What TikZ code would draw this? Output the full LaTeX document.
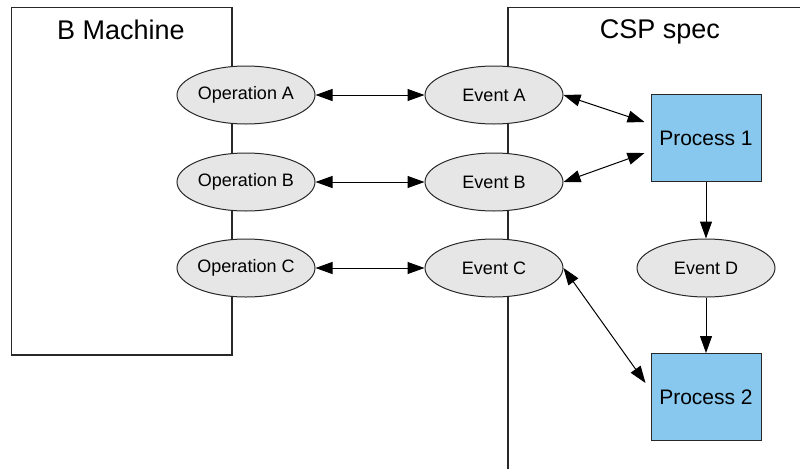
\documentclass[tikz,border=0pt]{standalone}
\usepackage{xcolor}
\usepackage{fontspec}
\setmainfont{Liberation Sans}
\usepackage{tikz}
\usetikzlibrary{shapes.geometric, arrows.meta, positioning, calc}
\definecolor{eventgray}{RGB}{230, 230, 230}
\definecolor{processblue}{RGB}{137, 200, 238}
\definecolor{linegray}{RGB}{40, 40, 40}

\begin{document}
\begin{tikzpicture}[x=1pt, y=-1pt, line width=1pt, draw=linegray,
    eventnode/.style={ellipse, draw=linegray, fill=eventgray, minimum width=138pt,
          minimum height=58pt, inner sep=0pt, font=\fontsize{18}{20}\selectfont},
    processnode/.style={rectangle, draw=linegray, fill=processblue, minimum width=110pt,
          minimum height=87pt, inner sep=0pt, font=\fontsize{21}{24}\selectfont},
    twoway/.style={draw=black, {Triangle[length=17pt, width=12pt]}-{Triangle[length=17pt, width=12pt]}},
    oneway/.style={draw=black, -{Triangle[length=17pt, width=12pt]}}]
    \useasboundingbox (0,0) rectangle (800,469);

    % the two frames
    \node[draw=linegray, line width=1.3pt, minimum width=220.5pt, minimum height=347.5pt,
          inner sep=0pt] (bbox) at (121.75,181.25) {};
    \node[font=\fontsize{27}{30}\selectfont] (btitle) at (121,30) {B Machine};
    \coordinate (cspbottom) at (508,469);
    \coordinate (csptop) at (508,7.5);
    \coordinate (cspright) at (800,7.5);
    \draw[line width=1.3pt] (cspbottom) -- (csptop) -- (cspright);
    \node[font=\fontsize{27}{30}\selectfont] (csptitle) at (660,32) {CSP spec};

    % operations and events
    \node[eventnode] (opA) at (246,95) {Operation A};
    \node[eventnode] (opB) at (246,182) {Operation B};
    \node[eventnode] (opC) at (246,268) {Operation C};
    \node[eventnode] (evA) at (494,95) {Event A};
    \node[eventnode] (evB) at (494,182) {Event B};
    \node[eventnode] (evC) at (494,268) {Event C};
    \node[eventnode] (evD) at (706,268) {Event D};

    % processes
    \node[processnode] (procA) at (706,138) {Process 1};
    \node[processnode] (procB) at (706,397) {Process 2};

    % connectors
    \draw[twoway] (opA.east) -- (evA.west);
    \draw[twoway] (opB.east) -- (evB.west);
    \draw[twoway] (opC.east) -- (evC.west);
    \draw[twoway] (evA.east) -- ($(procA.west)+(-6,-16)$);
    \draw[twoway] (evB.east) -- ($(procA.west)+(-6,15)$);
    \draw[twoway] (evC.east) -- ($(procB.west)+(-5,-14)$);
    \draw[oneway] (procA.south) -- (evD.north);
    \draw[oneway] (evD.south) -- (procB.north);
\end{tikzpicture}
\end{document}
